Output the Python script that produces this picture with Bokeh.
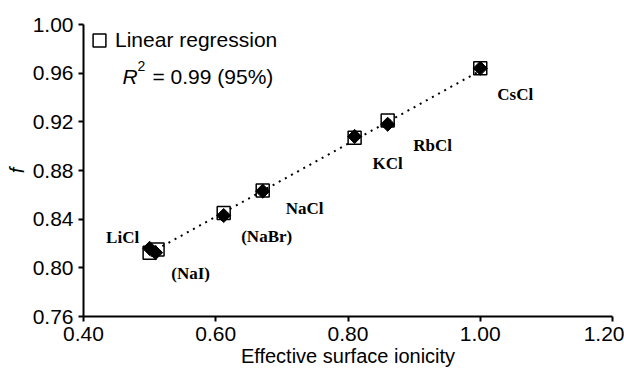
from bokeh.plotting import figure
from bokeh.models import Range1d, FixedTicker, NumeralTickFormatter, Label, Legend, LegendItem, ColumnDataSource
from bokeh.core.properties import value
from bokeh.embed import file_html
from bokeh.resources import INLINE
import math

# ---- data ----
salts = ["LiCl", "(NaI)", "(NaBr)", "NaCl", "KCl", "RbCl", "CsCl"]
ionicity_sq = [0.500, 0.512, 0.612, 0.671, 0.810, 0.860, 1.000]
f_regression = [0.8125, 0.815, 0.845, 0.8635, 0.907, 0.921, 0.964]
ionicity_dm = [0.500, 0.509, 0.612, 0.671, 0.810, 0.860, 1.000]
f_measured = [0.816, 0.8125, 0.843, 0.863, 0.908, 0.918, 0.964]
fit_x = [0.51, 1.00]
fit_y = [0.815, 0.962]
x_ticks = [0.40, 0.60, 0.80, 1.00, 1.20]
y_ticks = [0.76, 0.80, 0.84, 0.88, 0.92, 0.96, 1.00]

# label offsets in screen pixels (styling)
label_dx = [-27, 35, 43, 42, 33, 45, 35]
label_dy = [-11, 21, 21, 17, 27, 21, 26]

p = figure(width=624, height=375, output_backend="svg", toolbar_location=None,
           x_range=Range1d(0.40, 1.20), y_range=Range1d(0.76, 1.00),
           min_border_left=83, min_border_right=12, min_border_top=24, min_border_bottom=59)
p.outline_line_color = None
p.xgrid.visible = False
p.ygrid.visible = False
p.background_fill_color = "white"
p.border_fill_color = "white"

for ax in (p.xaxis[0], p.yaxis[0]):
    ax.axis_line_width = 2
    ax.axis_line_color = "black"
    ax.major_tick_line_width = 2
    ax.major_tick_line_color = "black"
    ax.major_tick_out = 5
    ax.major_tick_in = 0
    ax.minor_tick_line_color = None
    ax.major_label_text_font = "Liberation Sans"
    ax.major_label_text_font_size = "21px"
    ax.major_label_text_color = "black"
    ax.axis_label_text_font = "Liberation Sans"
    ax.axis_label_text_font_size = "20px"
    ax.axis_label_text_color = "black"

p.xaxis.major_label_standoff = 5
p.yaxis.major_label_standoff = 5
p.xaxis.ticker = FixedTicker(ticks=x_ticks)
p.yaxis.ticker = FixedTicker(ticks=y_ticks)
p.xaxis.formatter = NumeralTickFormatter(format="0.00")
p.yaxis.formatter = NumeralTickFormatter(format="0.00")
p.xaxis.axis_label = "Effective surface ionicity"
p.xaxis.axis_label_text_font_style = "normal"
p.xaxis.axis_label_standoff = 1
p.yaxis.axis_label = "f"
p.yaxis.axis_label_text_font_style = "italic"
p.yaxis.axis_label_standoff = 2

# fitted line
p.line(fit_x, fit_y, line_color="black", line_width=2, line_dash="2 5")

# regression squares
sq = p.scatter(ionicity_sq, f_regression, marker="square", size=13,
               fill_color="white", fill_alpha=0, line_color="black", line_width=1.5)
# measured diamonds (rotated squares)
p.scatter(ionicity_dm, f_measured, marker="square", size=10, angle=math.pi / 4,
          fill_color="black", line_color="black")

# salt labels
src = ColumnDataSource(dict(x=ionicity_dm, y=f_measured, t=salts, dx=label_dx, dy=label_dy))
p.text(x="x", y="y", text="t", x_offset="dx", y_offset="dy", source=src,
       text_font=value("Liberation Serif"), text_font_style="bold",
       text_font_size="17px", text_align="center", text_baseline="middle", text_color="black")

# legend
legend = Legend(items=[LegendItem(label="Linear regression", renderers=[sq])],
                location="top_left", margin=0, padding=7, spacing=0,
                border_line_color=None, background_fill_alpha=0,
                label_text_font="Liberation Sans", label_text_font_size="21px",
                label_text_color="black",
                glyph_width=32, glyph_height=32, label_standoff=-8)
p.add_layout(legend)

# R^2 annotation (screen units relative to the plot frame)
p.add_layout(Label(x=39, y=240, x_units="screen", y_units="screen",
                   text="R", text_font="Liberation Sans", text_font_style="italic",
                   text_font_size="21px", text_baseline="middle", text_color="black"))
p.add_layout(Label(x=54, y=251, x_units="screen", y_units="screen",
                   text="2", text_font="Liberation Sans",
                   text_font_size="14px", text_baseline="middle", text_color="black"))
p.add_layout(Label(x=69, y=240, x_units="screen", y_units="screen",
                   text="= 0.99 (95%)", text_font="Liberation Sans",
                   text_font_size="21px", text_baseline="middle", text_color="black"))

open("out.html", "w").write(file_html(p, INLINE))
